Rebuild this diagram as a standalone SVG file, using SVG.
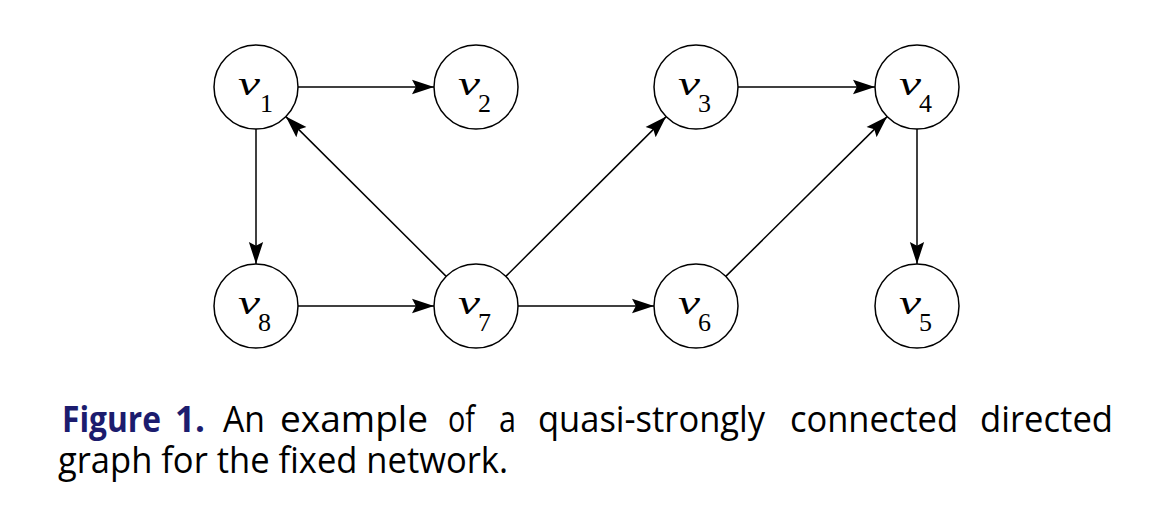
<svg xmlns="http://www.w3.org/2000/svg" width="1162" height="512" viewBox="0 0 1162 512">
<defs>
<marker id="ah" markerUnits="userSpaceOnUse" markerWidth="22" markerHeight="16" viewBox="0 0 20 14" refX="20" refY="7" orient="auto">
<path d="M0,0.5 L20,7 L0,13.5 L3.5,7 Z" fill="#000"/>
</marker>
</defs>
<style>
.node circle{fill:#fff;stroke:#000;stroke-width:1.5}
.v{font-family:"Liberation Serif",serif;font-style:italic;font-size:34px;fill:#000}
.s{font-family:"Liberation Serif",serif;font-size:26px;fill:#000}
.edges line{stroke:#000;stroke-width:1.5;marker-end:url(#ah)}
.cap{font-family:"Open Sans",sans-serif;font-size:36px;fill:#000}
.capb{font-family:"Open Sans",sans-serif;font-size:36px;font-weight:bold;fill:#1c1c6e}
</style>
<rect width="1162" height="512" fill="#fff"/>
<g class="edges" id="connectors">
<line x1="298" y1="87" x2="434" y2="87"/>
<line x1="738" y1="87" x2="875" y2="87"/>
<line x1="298" y1="306" x2="434" y2="306"/>
<line x1="518" y1="306" x2="654" y2="306"/>
<line x1="256" y1="129" x2="256" y2="264"/>
<line x1="917" y1="129" x2="917" y2="264"/>
<line x1="446.2" y1="276.4" x2="285.8" y2="116.6"/>
<line x1="505.8" y1="276.4" x2="666.2" y2="116.6"/>
<line x1="725.8" y1="276.4" x2="887.2" y2="116.6"/>
</g>
<g class="node" id="v1"><circle cx="256" cy="87" r="42"/><text class="v" x="238" y="95" textLength="22" lengthAdjust="spacingAndGlyphs">v</text><text class="s" x="260" y="112">1</text></g>
<g class="node" id="v2"><circle cx="476" cy="87" r="42"/><text class="v" x="458" y="95" textLength="22" lengthAdjust="spacingAndGlyphs">v</text><text class="s" x="478" y="112">2</text></g>
<g class="node" id="v3"><circle cx="696" cy="87" r="42"/><text class="v" x="678" y="95" textLength="22" lengthAdjust="spacingAndGlyphs">v</text><text class="s" x="698" y="112">3</text></g>
<g class="node" id="v4"><circle cx="917" cy="87" r="42"/><text class="v" x="899" y="95" textLength="22" lengthAdjust="spacingAndGlyphs">v</text><text class="s" x="919" y="112">4</text></g>
<g class="node" id="v8"><circle cx="256" cy="306" r="42"/><text class="v" x="238" y="314" textLength="22" lengthAdjust="spacingAndGlyphs">v</text><text class="s" x="258" y="331">8</text></g>
<g class="node" id="v7"><circle cx="476" cy="306" r="42"/><text class="v" x="458" y="314" textLength="22" lengthAdjust="spacingAndGlyphs">v</text><text class="s" x="478" y="331">7</text></g>
<g class="node" id="v6"><circle cx="696" cy="306" r="42"/><text class="v" x="678" y="314" textLength="22" lengthAdjust="spacingAndGlyphs">v</text><text class="s" x="698" y="331">6</text></g>
<g class="node" id="v5"><circle cx="917" cy="306" r="42"/><text class="v" x="899" y="314" textLength="22" lengthAdjust="spacingAndGlyphs">v</text><text class="s" x="919" y="331">5</text></g>
<g id="caption">
<text class="capb" x="62" y="432" textLength="99" lengthAdjust="spacingAndGlyphs">Figure</text>
<text class="capb" x="175" y="432" textLength="30" lengthAdjust="spacingAndGlyphs">1.</text>
<text class="cap" x="223" y="432" textLength="42" lengthAdjust="spacingAndGlyphs">An</text>
<text class="cap" x="280" y="432" textLength="148" lengthAdjust="spacingAndGlyphs">example</text>
<text class="cap" x="448" y="432" textLength="27" lengthAdjust="spacingAndGlyphs">of</text>
<text class="cap" x="499" y="432" textLength="17" lengthAdjust="spacingAndGlyphs">a</text>
<text class="cap" x="538" y="432" textLength="227" lengthAdjust="spacingAndGlyphs">quasi-strongly</text>
<text class="cap" x="790" y="432" textLength="168" lengthAdjust="spacingAndGlyphs">connected</text>
<text class="cap" x="980" y="432" textLength="133" lengthAdjust="spacingAndGlyphs">directed</text>
<text class="cap" x="58" y="473" textLength="450" lengthAdjust="spacingAndGlyphs">graph for the fixed network.</text>
</g>
</svg>
